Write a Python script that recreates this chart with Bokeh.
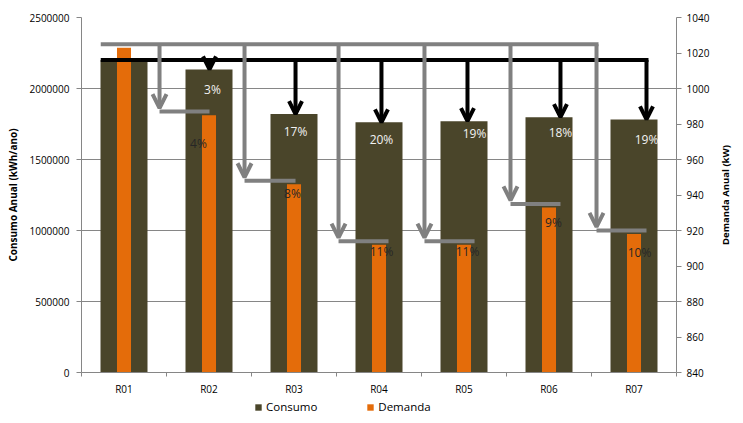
import math
from bokeh.plotting import figure
from bokeh.layouts import column, row
from bokeh.models import (Range1d, LinearAxis, FixedTicker, NumeralTickFormatter, Arrow, OpenHead,
                          ColumnDataSource, Legend, LegendItem, LabelSet, Label)
from bokeh.core.properties import value
from bokeh.embed import file_html
from bokeh.resources import INLINE

# ---------------- data ----------------
categories = ["R01", "R02", "R03", "R04", "R05", "R06", "R07"]
consumo = [2200000, 2134000, 1820000, 1762000, 1770000, 1798000, 1782000]   # kWh/ano
demanda = [1023, 985, 946, 912, 912, 933, 918]                                # kW
consumo_pct = ["", "3%", "17%", "20%", "19%", "18%", "19%"]
demanda_pct = ["", "4%", "8%", "11%", "11%", "9%", "10%"]
left_ticks = [0, 500000, 1000000, 1500000, 2000000, 2500000]
right_ticks = [840, 860, 880, 900, 920, 940, 960, 980, 1000, 1020, 1040]
series_names = ["Consumo", "Demanda"]
right_title = "Demanda Anual (kW)"

# ---------------- layout constants (annotation placement) ----------------
FONT = "Open Sans"
AXIS_GRAY = "#868686"
C_CONS = "#4A452A"
C_DEM = "#E46C0A"
n = len(categories)
xc = [i + 0.5 for i in range(n)]
line_start = 0.25
black_dx = [0.006, 0.018, 0.029, 0.041, 0.135, 0.147]
gray_dx = [-0.082, -0.082, 0.024, 0.035, 0.047, 0.059]
gray_end_dx = [0.006, 0.018, 0.112, 0.124, 0.135, 0.147]
GAP = 2.0
cons_lbl_dx = [3, 0, 0, 7, 0, 0]
cons_lbl_dy = [20, 17, 17, 12, 15, 20]
dem_lbl_dx = [-10.5, -1.5, 2.5, 3.5, 4.5, 5.5]
dem_lbl_dy = [28, 9, 7, 7, 15, 18]

p = figure(width=713, height=398, x_range=Range1d(0, n), y_range=Range1d(0, 2500000),
           output_backend="svg", toolbar_location=None,
           min_border_left=81, min_border_right=37, min_border_top=17, min_border_bottom=26)
p.extra_y_ranges = {"dem": Range1d(840, 1040)}
p.outline_line_color = None
p.background_fill_color = "white"

# x axis
p.xaxis.ticker = FixedTicker(ticks=xc, minor_ticks=list(range(n + 1)))
p.xaxis.major_label_overrides = {xc[i]: categories[i] for i in range(n)}
p.xaxis.major_tick_out = 0
p.xaxis.major_tick_in = 0
p.xaxis.minor_tick_out = 4
p.xaxis.minor_tick_in = 0
p.xaxis.minor_tick_line_color = AXIS_GRAY
p.xaxis.axis_line_color = AXIS_GRAY
p.xaxis.major_label_standoff = 5
p.xaxis.major_label_text_font = FONT
p.xaxis.major_label_text_font_size = "10px"
p.xaxis.major_label_text_color = "#000000"

# left axis
p.yaxis.ticker = FixedTicker(ticks=left_ticks)
p.yaxis.formatter = NumeralTickFormatter(format="0")
p.yaxis.major_tick_out = 5
p.yaxis.major_tick_in = 0
p.yaxis.minor_tick_line_color = None
p.yaxis.axis_line_color = AXIS_GRAY
p.yaxis.major_tick_line_color = AXIS_GRAY
p.yaxis.major_label_standoff = 7
p.yaxis.major_label_text_font = FONT
p.yaxis.major_label_text_font_size = "10px"
p.yaxis.major_label_text_color = "#000000"
p.yaxis.axis_label = "Consumo Anual (kWh/ano)"
p.yaxis.axis_label_text_font = FONT
p.yaxis.axis_label_text_font_style = "bold"
p.yaxis.axis_label_text_font_size = "10px"
p.yaxis.axis_label_text_color = "#000000"
p.yaxis.axis_label_standoff = 6

# right axis (its title is drawn in the narrow strip to the right)
ra = LinearAxis(y_range_name="dem", ticker=FixedTicker(ticks=right_ticks))
ra.major_tick_out = 5
ra.major_tick_in = 0
ra.minor_tick_line_color = None
ra.axis_line_color = AXIS_GRAY
ra.major_tick_line_color = AXIS_GRAY
ra.major_label_standoff = 5
ra.major_label_text_font = FONT
ra.major_label_text_font_size = "10px"
ra.major_label_text_color = "#000000"
p.add_layout(ra, "right")

p.xgrid.grid_line_color = None
p.ygrid.grid_line_color = AXIS_GRAY
p.ygrid.grid_line_width = 1

# bars
p.vbar(x=xc, top=consumo, bottom=0, width=0.553, fill_color=C_CONS, line_color=None)
p.vbar(x=xc, top=demanda, bottom=840, width=0.165, fill_color=C_DEM, line_color=None,
       y_range_name="dem")

# gray connectors (demanda reductions)
gx = [i + 1 + gray_dx[i] for i in range(n - 1)]
gy_top = demanda[0] + GAP
gy = [demanda[i + 1] + GAP for i in range(n - 1)]
gend = [xc[i + 1] + gray_end_dx[i] for i in range(n - 1)]
p.segment(x0=[line_start], y0=[gy_top], x1=[gx[-1]], y1=[gy_top], line_color="#808080",
          line_width=4, y_range_name="dem", line_cap="square")
p.segment(x0=gx, y0=gy, x1=gend, y1=gy, line_color="#808080", line_width=4, y_range_name="dem")
gsrc = ColumnDataSource(dict(x0=gx, y0=[gy_top] * (n - 1), x1=gx, y1=[v + GAP for v in gy]))
p.add_layout(Arrow(end=OpenHead(size=14, line_width=4, line_color="#808080"), source=gsrc,
                   x_start="x0", y_start="y0", x_end="x1", y_end="y1",
                   line_color="#808080", line_width=4, y_range_name="dem"))

# black connectors (consumo reductions)
bx = [xc[i + 1] + black_dx[i] for i in range(n - 1)]
by = consumo[0]
p.segment(x0=[line_start], y0=[by], x1=[bx[-1]], y1=[by], line_color="black", line_width=4,
          line_cap="square")
bsrc = ColumnDataSource(dict(x0=bx, y0=[by] * (n - 1), x1=bx, y1=consumo[1:]))
p.add_layout(Arrow(end=OpenHead(size=13, line_width=4, line_color="black"), source=bsrc,
                   x_start="x0", y_start="y0", x_end="x1", y_end="y1",
                   line_color="black", line_width=4))

# percentage labels
csrc = ColumnDataSource(dict(x=bx, y=consumo[1:], t=consumo_pct[1:], dx=cons_lbl_dx,
                             dy=[-d for d in cons_lbl_dy]))
p.add_layout(LabelSet(x="x", y="y", text="t", source=csrc, x_offset="dx", y_offset="dy",
                      text_align="center", text_baseline="middle", text_color="#F2F2F2",
                      text_font=value(FONT), text_font_size=value("12px")))
dsrc = ColumnDataSource(dict(x=xc[1:], y=demanda[1:], t=demanda_pct[1:], dx=dem_lbl_dx,
                             dy=[-d for d in dem_lbl_dy]))
p.add_layout(LabelSet(x="x", y="y", text="t", source=dsrc, x_offset="dx", y_offset="dy",
                      text_align="center", text_baseline="middle", text_color="#262626",
                      text_font=value(FONT), text_font_size=value("12px"), y_range_name="dem"))

# ---------------- right title strip (reads bottom-to-top like the left one) ----------------
rt = figure(width=30, height=398, x_range=Range1d(0, 1), y_range=Range1d(0, 1),
            output_backend="svg", toolbar_location=None, min_border=0,
            x_axis_type=None, y_axis_type=None)
rt.outline_line_color = None
rt.xgrid.grid_line_color = None
rt.ygrid.grid_line_color = None
rt.add_layout(Label(x=0.4, y=0.5, text=right_title, angle=math.pi / 2, text_align="center",
                    text_baseline="middle", text_font=FONT, text_font_style="bold",
                    text_font_size="9.5px", text_color="#000000"))

# ---------------- legend strip ----------------
lg = figure(width=743, height=25, x_range=Range1d(0, 1), y_range=Range1d(0, 1),
            output_backend="svg", toolbar_location=None, min_border=0,
            x_axis_type=None, y_axis_type=None)
lg.outline_line_color = None
lg.xgrid.grid_line_color = None
lg.ygrid.grid_line_color = None
k1 = lg.vbar(x=[-10], top=[-10], width=0.1, fill_color=C_CONS, line_color=None)
k2 = lg.vbar(x=[-10], top=[-10], width=0.1, fill_color=C_DEM, line_color=None)
legend = Legend(items=[LegendItem(label=series_names[0], renderers=[k1]),
                       LegendItem(label=series_names[1], renderers=[k2])],
                orientation="horizontal", location=(254, 9), padding=0, margin=0,
                spacing=49, glyph_width=8, glyph_height=8, label_standoff=4,
                border_line_color=None, background_fill_alpha=0,
                label_text_font=FONT, label_text_font_size="11.5px", label_text_color="#000000")
lg.add_layout(legend, "center")

layout = column(row(p, rt, spacing=0), lg, spacing=0)
open("out.html", "w").write(file_html(layout, INLINE))
